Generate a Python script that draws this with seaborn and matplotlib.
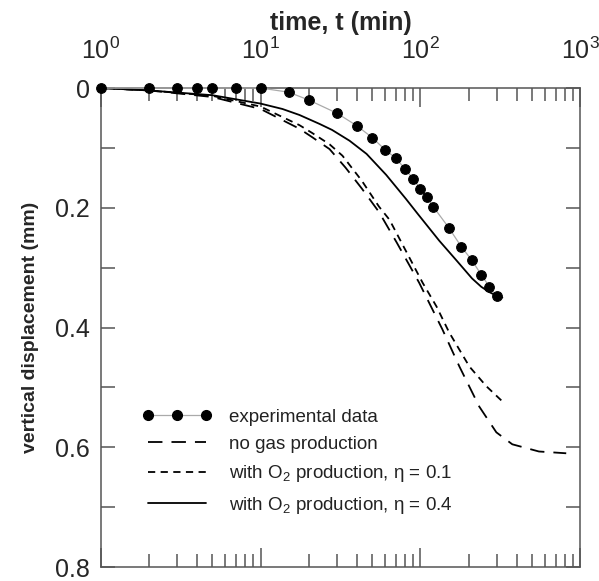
import numpy as np
import pandas as pd
import matplotlib
matplotlib.use("Agg")
import matplotlib.pyplot as plt
from matplotlib.lines import Line2D
from matplotlib.ticker import LogLocator, FixedLocator, MultipleLocator, FixedFormatter
import seaborn as sns

sns.set_style("ticks")
plt.rcParams['font.family'] = ['Liberation Sans', 'DejaVu Sans']
plt.rcParams['mathtext.fontset'] = 'custom'
plt.rcParams['mathtext.rm'] = 'Liberation Sans'
plt.rcParams['mathtext.it'] = 'Liberation Sans:italic'
plt.rcParams['mathtext.bf'] = 'Liberation Sans:bold'

# 실험 데이터 (time in min, displacement in mm)
t_exp = [1, 2, 3, 4, 5, 7, 10, 15, 20, 30, 40, 50, 60, 70, 80, 90, 100, 110, 120,
         150, 180, 210, 240, 270, 300]
d_exp = [0, 0, 0, 0, 0, 0, 0, 0.007, 0.02, 0.042, 0.063, 0.083, 0.103, 0.117, 0.135,
         0.152, 0.168, 0.182, 0.198, 0.233, 0.265, 0.288, 0.312, 0.332, 0.348]

# no gas production
t_nogas = [1, 2, 5, 10, 17.5, 21, 27, 34, 43, 55, 71, 98, 137, 175, 233, 298, 375, 550, 815]
d_nogas = [0, 0.004, 0.015, 0.035, 0.068, 0.082, 0.102, 0.133, 0.168, 0.207, 0.258,
           0.325, 0.403, 0.465, 0.532, 0.575, 0.595, 0.607, 0.61]

# with O2 production, eta = 0.1
t_eta01 = [1, 2, 5, 10, 17.5, 21, 27, 32.5, 43, 55, 64, 103, 126, 151, 202, 258, 324]
d_eta01 = [0, 0.004, 0.013, 0.031, 0.062, 0.075, 0.094, 0.113, 0.155, 0.198, 0.22,
           0.325, 0.365, 0.408, 0.465, 0.498, 0.523]

# with O2 production, eta = 0.4
t_eta04 = [1, 2, 5, 10, 13.7, 17.5, 23.4, 28, 36, 46, 61, 81, 96, 131, 168, 210, 240,
           270, 300, 325]
d_eta04 = [0, 0.004, 0.012, 0.026, 0.035, 0.045, 0.06, 0.07, 0.088, 0.11, 0.145, 0.185,
           0.21, 0.255, 0.288, 0.318, 0.332, 0.341, 0.347, 0.35]

labels = ['experimental data', 'no gas production',
          r'with O$_\mathregular{2}$ production, η = 0.1',
          r'with O$_\mathregular{2}$ production, η = 0.4']

fig = plt.figure(figsize=(5.99, 5.81), dpi=100)
ax = fig.add_axes([0.168, 0.024, 0.801, 0.8245])

lw = 1.3
sns.lineplot(x=t_nogas, y=d_nogas, ax=ax, color='black', linewidth=lw,
             linestyle=(0, (8, 5)), sort=False)
sns.lineplot(x=t_eta01, y=d_eta01, ax=ax, color='black', linewidth=lw,
             linestyle=(0, (4, 3)), sort=False)
sns.lineplot(x=t_eta04, y=d_eta04, ax=ax, color='black', linewidth=lw, sort=False)
sns.lineplot(x=t_exp, y=d_exp, ax=ax, color='#aaaaaa', linewidth=0.9, marker='o',
             markersize=7, markerfacecolor='black', markeredgecolor='black',
             sort=False, clip_on=False, zorder=5)

ax.set_xscale('log')
ax.set_xlim(1, 1000)
ax.set_ylim(0.8, 0)

# 축 스타일
spine_c = '#555555'
for s in ax.spines.values():
    s.set_visible(True)
    s.set_color(spine_c)
    s.set_linewidth(1.1)

ax.xaxis.set_major_locator(LogLocator(base=10, numticks=10))
ax.xaxis.set_minor_locator(LogLocator(base=10, subs=np.arange(2, 10), numticks=10))
ax.yaxis.set_major_locator(FixedLocator([0, 0.2, 0.4, 0.6, 0.8]))
ax.yaxis.set_major_formatter(FixedFormatter(['0', '0.2', '0.4', '0.6', '0.8']))
ax.yaxis.set_minor_locator(MultipleLocator(0.1))

ax.tick_params(axis='x', which='both', direction='in', top=True, bottom=True,
               labeltop=True, labelbottom=False, color=spine_c, labelsize=18, pad=17)
ax.tick_params(axis='x', which='major', length=14, width=1.1)
ax.tick_params(axis='x', which='minor', length=9.5, width=1.1)
ax.tick_params(axis='y', which='both', direction='in', left=True, right=True,
               labelleft=True, labelright=False, color=spine_c, labelsize=18,
               length=10, width=1.1, pad=8)

ax.xaxis.set_label_position('top')
ax.set_xlabel('time, t (min)', fontsize=18, fontweight='bold', labelpad=6)
ax.set_ylabel('vertical displacement (mm)', fontsize=14, fontweight='bold', labelpad=11)

# 범례
handles = [
    Line2D([], [], color='#aaaaaa', linewidth=0.9, marker='o', markersize=7,
           markerfacecolor='black', markeredgecolor='black'),
    Line2D([], [], color='black', linewidth=lw, linestyle=(0, (8, 5))),
    Line2D([], [], color='black', linewidth=lw, linestyle=(0, (4, 3))),
    Line2D([], [], color='black', linewidth=lw),
]
leg = ax.legend(handles, labels, loc='lower left', bbox_to_anchor=(0.06, 0.08),
                frameon=False, fontsize=13.5, numpoints=3, handlelength=3.7,
                handletextpad=0.9, labelspacing=0.55, borderpad=0.2)
for txt in leg.get_texts():
    txt.set_color('#222222')

fig.savefig('out.png', dpi=100)
